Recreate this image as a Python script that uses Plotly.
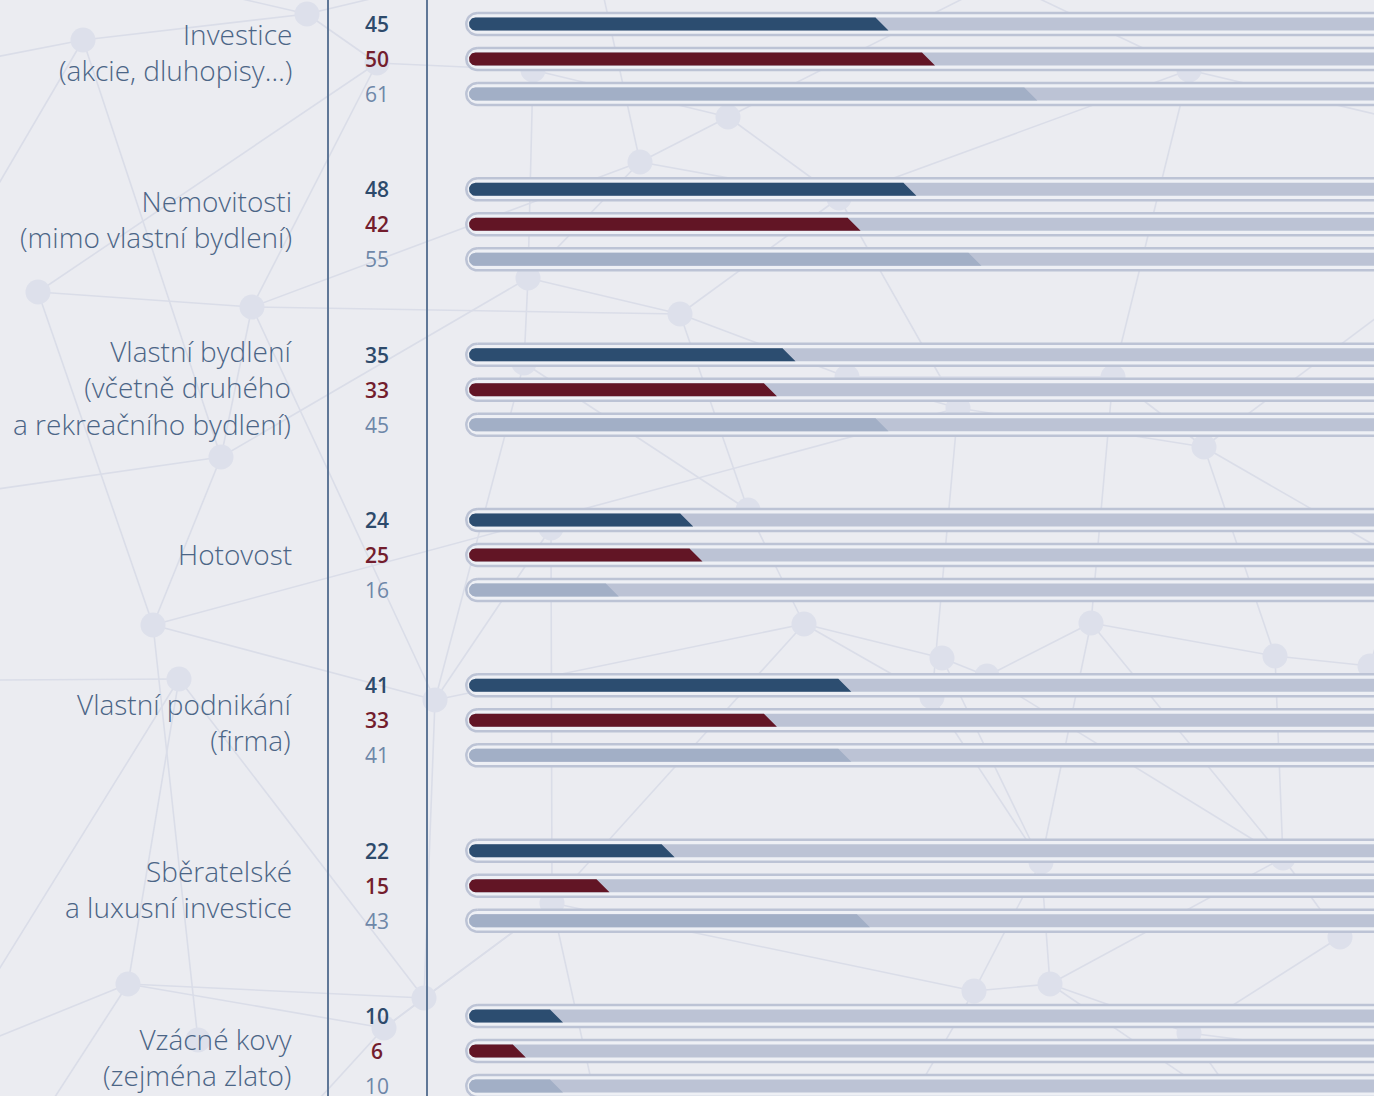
import numpy as np
import plotly.graph_objects as go

# ---------------- data ----------------
categories = [
    "Investice<br>(akcie, dluhopisy…)",
    "Nemovitosti<br>(mimo vlastní bydlení)",
    "Vlastní bydlení<br>(včetně druhého<br>a rekreačního bydlení)",
    "Hotovost",
    "Vlastní podnikání<br>(firma)",
    "Sběratelské<br>a luxusní investice",
    "Vzácné kovy<br>(zejména zlato)",
]
series_blue = [45, 48, 35, 24, 41, 22, 10]
series_red = [50, 42, 33, 25, 33, 15, 6]
series_grey = [61, 55, 45, 16, 41, 43, 10]

# ---------------- layout constants ----------------
W, H = 1374, 1096
X0, K = 470.0, 9.3          # pixel of value 0, pixels per unit
G0, GSTEP, BSTEP = 59.0, 165.33, 35.0
LABEL_DY = [-7.5, -5.5, -2, -1, 1.5, 3, 6]

BG = "#ebecf1"
TRACK = "#bcc3d5"
TRACK_GAP = "#eef0f5"
COL_BLUE, COL_RED, COL_GREY = "#2c4d70", "#621525", "#a2afc6"
TXT_BLUE, TXT_RED, TXT_GREY = "#2d4a6b", "#731d2d", "#6e87a8"
LABEL_COL = "#4b6586"
FONT = "Open Sans"


def px2x(px):
    return (px - X0) / K


# decorative network (pixel coordinates)
nodes = [
    (307, 14), (83, 40), (728, 117), (640, 162), (528, 278), (680, 314),
    (252, 307), (38, 292), (221, 457), (1204, 447), (958, 408), (153, 625),
    (179, 679), (435, 700), (128, 984), (198, 1040), (424, 998), (384, 1028),
    (804, 624), (942, 658), (987, 676), (1091, 623), (1275, 656), (1370, 666),
    (1041, 862), (1283, 858), (552, 903), (1340, 937), (1050, 984), (974, 991),
    (1113, 377), (839, 198), (847, 377), (524, 363), (748, 510), (1189, 70),
    (377, 63), (533, 70), (932, 697), (1189, 1033), (551, 528),
]
anchors = [
    (-20, 60), (-40, 250), (-10, 490), (-10, 680), (-20, 1000), (-10, 1040),
    (40, 1120), (300, 1120), (600, 1120), (900, 1120), (1250, 1120),
    (1400, 560), (1400, 300), (1400, 120), (1000, -20), (600, -20),
    (450, -20), (160, -20), (1400, 900), (1400, 1060),
]
allpts = nodes + anchors
edges = [
    (0, 1), (1, 41), (1, 8), (1, 42), (0, 57), (0, 58),
    (7, 6), (7, 36), (7, 11), (6, 36), (6, 3), (6, 5), (6, 8), (6, 13),
    (8, 43), (8, 11), (8, 4), (11, 10), (11, 13), (11, 15), (12, 44),
    (12, 16), (12, 14), (12, 45), (13, 16), (14, 46), (14, 47), (14, 16),
    (14, 17), (36, 37), (36, 0), (37, 2), (37, 4), (2, 3), (2, 31), (2, 55),
    (3, 4), (3, 31), (3, 56), (4, 5), (4, 33), (5, 31), (5, 32), (5, 34),
    (33, 34), (33, 13), (34, 18), (34, 40), (40, 13), (40, 26), (31, 10),
    (31, 35), (32, 30), (32, 10), (10, 9), (30, 9), (30, 35), (35, 54),
    (35, 55), (9, 53), (9, 22), (9, 52), (30, 21), (10, 38), (18, 19),
    (18, 26), (18, 38), (19, 20), (20, 21), (21, 22), (22, 23), (22, 25),
    (23, 52), (38, 24), (19, 24), (21, 24), (24, 28), (24, 29), (25, 27),
    (25, 28), (27, 59), (27, 39), (28, 39), (28, 29), (29, 26), (29, 50),
    (26, 49), (26, 17), (16, 17), (17, 48), (39, 60), (39, 51), (28, 51),
    (26, 16), (13, 18), (20, 25), (21, 25),
]

fig = go.Figure()

ex, ey = [], []
for a, b in edges:
    ex += [px2x(allpts[a][0]), px2x(allpts[b][0]), None]
    ey += [allpts[a][1], allpts[b][1], None]
fig.add_trace(go.Scatter(x=ex, y=ey, mode="lines",
                         line=dict(color="#dadde8", width=1.6),
                         hoverinfo="skip", showlegend=False))
fig.add_trace(go.Scatter(x=[px2x(p[0]) for p in nodes], y=[p[1] for p in nodes],
                         mode="markers",
                         marker=dict(size=25, color="#dde0eb", line=dict(width=0)),
                         hoverinfo="skip", showlegend=False))


def left_cap(cx_px, yc, r):
    xs, ys = [], []
    for t in np.linspace(-np.pi / 2, np.pi / 2, 19):
        xs.append(px2x(cx_px - r * np.cos(t)))
        ys.append(yc + r * np.sin(t))
    return xs, ys


def row_y(g, j):
    return G0 + GSTEP * g + BSTEP * (j - 1)


# tracks
ox, oy, ix, iy = [], [], [], []
for g in range(len(categories)):
    for j in range(3):
        yc = row_y(g, j)
        xs, ys = left_cap(477.3, yc, 11)
        xs += [px2x(1430), px2x(1430), xs[0]]
        ys += [yc + 11, yc - 11, ys[0]]
        ox += xs + [None]
        oy += ys + [None]
        xs, ys = left_cap(475.5, yc, 6.5)
        xs += [px2x(1430), px2x(1430), xs[0]]
        ys += [yc + 6.5, yc - 6.5, ys[0]]
        ix += xs + [None]
        iy += ys + [None]
fig.add_trace(go.Scatter(x=ox, y=oy, mode="lines", fill="toself",
                         fillcolor=TRACK_GAP, line=dict(color=TRACK, width=2.5),
                         hoverinfo="skip", showlegend=False))
fig.add_trace(go.Scatter(x=ix, y=iy, mode="lines", fill="toself",
                         fillcolor=TRACK, line=dict(width=0, color=TRACK),
                         hoverinfo="skip", showlegend=False))

# bars
for j, (vals, col, name) in enumerate([(series_blue, COL_BLUE, "1"),
                                        (series_red, COL_RED, "2"),
                                        (series_grey, COL_GREY, "3")]):
    bx, by = [], []
    for g, v in enumerate(vals):
        yc = row_y(g, j)
        xs, ys = left_cap(475.5, yc, 6.5)
        xs += [v, v - 13 / K, xs[0]]
        ys += [yc + 6.5, yc - 6.5, ys[0]]
        bx += xs + [None]
        by += ys + [None]
    fig.add_trace(go.Scatter(x=bx, y=by, mode="lines", fill="toself",
                             fillcolor=col, line=dict(width=0, color=col),
                             name=name, hoverinfo="skip", showlegend=False))

annotations = []
for g, lab in enumerate(categories):
    annotations.append(dict(
        x=px2x(294), y=G0 + GSTEP * g + LABEL_DY[g], xref="x", yref="y",
        text=lab, showarrow=False, xanchor="right", yanchor="middle", align="right",
        font=dict(family=FONT, size=28, color=LABEL_COL, weight=300)))
    for j, (vals, col, wt) in enumerate([(series_blue, TXT_BLUE, 600),
                                          (series_red, TXT_RED, 600),
                                          (series_grey, TXT_GREY, 500)]):
        annotations.append(dict(
            x=px2x(377), y=row_y(g, j), xref="x", yref="y",
            text=str(vals[g]), showarrow=False, xanchor="center", yanchor="middle",
            font=dict(family=FONT, size=21, color=col, weight=wt)))

shapes = []
for vx in (328, 427):
    shapes.append(dict(type="line", xref="x", yref="y", x0=px2x(vx), x1=px2x(vx),
                       y0=-5, y1=H + 5, line=dict(color="#5f7797", width=2),
                       layer="above"))

fig.update_layout(
    width=W, height=H,
    margin=dict(l=0, r=0, t=0, b=0),
    paper_bgcolor=BG, plot_bgcolor=BG,
    xaxis=dict(range=[px2x(0), px2x(W)], visible=False, fixedrange=True),
    yaxis=dict(range=[H, 0], visible=False, fixedrange=True),
    annotations=annotations, shapes=shapes,
    showlegend=False,
)

fig.write_html(
    "out.html",
    config={"displayModeBar": False},
    post_script="document.body.style.margin='0';document.body.style.overflow='hidden';",
)
